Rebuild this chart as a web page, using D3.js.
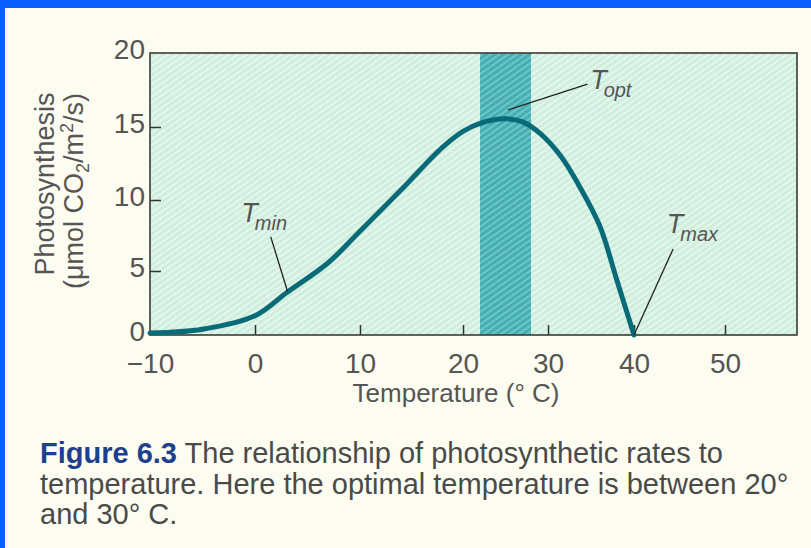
<!DOCTYPE html>
<html>
<head>
<meta charset="utf-8">
<script src="https://cdn.jsdelivr.net/npm/d3@7"></script>
<style>
  body { margin: 0; background: #fdfcf0; }
  svg { display: block; font-family: "Liberation Sans", Arial, sans-serif; }
</style>
</head>
<body>
<svg id="chart" width="811" height="548"></svg>
<script>
// x ticks and where they sit in the picture (the printed axis is not evenly spaced)
var xTicks = [-10, 0, 10, 20, 30, 40, 50];
var xTickPx = [150, 255, 360, 463, 548, 634, 725];
var yTicks = [0, 5, 10, 15, 20];
var yTickPx = [335, 271, 200, 127, 53];

// curve
var temps = [-10, -5, 0, 3, 7, 10, 14, 18, 20, 22, 25, 27, 29, 31.5, 33.5, 36, 38, 40];
var rates = [0.15, 0.45, 1.5, 3.3, 5.6, 7.8, 10.7, 13.6, 14.7, 15.25, 15.55, 15.35, 14.6, 13.0, 11.1, 8.2, 4.3, 0];

var optBand = [22, 28];

// T labels: text anchor, pointer start, pointer end (data units)
var labelNames = ["min", "opt", "max"];
var labelAt = [[-1.3, 8.45], [34.9, 17.6], [43.6, 7.7]];
var pointFrom = [[1.5, 7.4], [34.6, 17.9], [44.3, 6.55]];
var pointTo = [[3.1, 3.4], [25.3, 16.15], [40, 0]];

var captionLines = [
  ["Figure 6.3", " The relationship of photosynthetic rates to"],
  ["", "temperature. Here the optimal temperature is between 20°"],
  ["", "and 30° C."]
];

var svg = d3.select("#chart");
var W = +svg.attr("width"), H = +svg.attr("height");

var x = d3.scaleLinear().domain(xTicks).range(xTickPx);
var y = d3.scaleLinear().domain(yTicks).range(yTickPx);
var plotL = 150, plotR = 797, plotT = 53, plotB = 335;

var defs = svg.append("defs");
var hatch = defs.append("pattern").attr("id", "hatch")
    .attr("patternUnits", "userSpaceOnUse").attr("width", 5).attr("height", 5)
    .attr("patternTransform", "rotate(-35)");
hatch.append("rect").attr("width", 5).attr("height", 5).attr("fill", "#cfeedb");
hatch.append("rect").attr("width", 5).attr("height", 2).attr("fill", "#e4f6ee");

var hatch2 = defs.append("pattern").attr("id", "hatch2")
    .attr("patternUnits", "userSpaceOnUse").attr("width", 5).attr("height", 5)
    .attr("patternTransform", "rotate(-35)");
hatch2.append("rect").attr("width", 5).attr("height", 5).attr("fill", "#47aeae");
hatch2.append("rect").attr("width", 5).attr("height", 2).attr("fill", "#6cc4cf");

// blue frame of the slide
svg.append("rect").attr("x", 0).attr("y", 0).attr("width", W).attr("height", 8).attr("fill", "#0a5dff");
svg.append("rect").attr("x", 0).attr("y", 0).attr("width", 5).attr("height", H).attr("fill", "#0a5dff");

// plot background
svg.append("rect").attr("x", plotL).attr("y", plotT)
    .attr("width", plotR - plotL).attr("height", plotB - plotT)
    .attr("fill", "url(#hatch)");

svg.append("rect")
    .attr("x", x(optBand[0])).attr("y", plotT)
    .attr("width", x(optBand[1]) - x(optBand[0])).attr("height", plotB - plotT)
    .attr("fill", "url(#hatch2)");

// axes
var xAxis = d3.axisBottom(x).tickValues(xTicks).tickSize(-10).tickPadding(16)
    .tickFormat(function (d) { return d < 0 ? "\u2212" + Math.abs(d) : d; });
var gx = svg.append("g").attr("transform", "translate(0," + plotB + ")").call(xAxis);
var yAxis = d3.axisLeft(y).tickValues(yTicks).tickSize(-11).tickPadding(5);
var gy = svg.append("g").attr("transform", "translate(" + plotL + ",0)").call(yAxis);

[gx, gy].forEach(function (g) {
  g.select(".domain").remove();
  g.selectAll("line").attr("stroke", "#333").attr("stroke-width", 1.5);
  g.selectAll("text").attr("fill", "#555").style("font-size", "28px")
      .style("font-family", "Liberation Sans, Arial, sans-serif");
});
gx.selectAll(".tick").filter(function (d) { return d === -10; }).select("line").remove();
gy.selectAll(".tick").filter(function (d) { return d === 0 || d === 20; }).select("line").remove();
gx.selectAll("text").attr("y", 18);
gy.selectAll("text").attr("y", -3);

svg.append("rect").attr("x", plotL).attr("y", plotT)
    .attr("width", plotR - plotL).attr("height", plotB - plotT)
    .attr("fill", "none").attr("stroke", "#3a3a3a").attr("stroke-width", 1.6);

// curve
var line = d3.line().x(function (d) { return x(d[0]); }).y(function (d) { return y(d[1]); })
    .curve(d3.curveCatmullRom.alpha(0.5));
svg.append("path").datum(d3.zip(temps, rates))
    .attr("d", line).attr("fill", "none")
    .attr("stroke", "#096a78").attr("stroke-width", 5).attr("stroke-linecap", "round");

// pointers and labels
labelNames.forEach(function (n, i) {
  svg.append("line")
      .attr("x1", x(pointFrom[i][0])).attr("y1", y(pointFrom[i][1]))
      .attr("x2", x(pointTo[i][0])).attr("y2", y(pointTo[i][1]))
      .attr("stroke", "#222").attr("stroke-width", 1.3);
  var t = svg.append("text")
      .attr("x", x(labelAt[i][0])).attr("y", y(labelAt[i][1]))
      .attr("fill", "#555").style("font-style", "italic").style("font-size", "27px");
  t.append("tspan").text("T");
  t.append("tspan").attr("dx", -3).attr("dy", 8).style("font-size", "20px").text(n);
});

// axis titles
svg.append("text").attr("x", 456).attr("y", 402).attr("text-anchor", "middle")
    .attr("fill", "#555").style("font-size", "26px").text("Temperature (° C)");

var yt1 = svg.append("g").attr("transform", "translate(0,184) rotate(-90)");
yt1.append("text").attr("x", 0).attr("y", 54).attr("text-anchor", "middle")
    .attr("fill", "#555").style("font-size", "27px").text("Photosynthesis");
var yt2g = svg.append("g").attr("transform", "translate(0,191) rotate(-90)");
var yt2 = yt2g.append("text").attr("x", 0).attr("y", 83).attr("text-anchor", "middle")
    .attr("fill", "#555").style("font-size", "27px");
yt2.append("tspan").text("(\u03bcmol CO");
yt2.append("tspan").attr("dy", 6).style("font-size", "18px").text("2");
yt2.append("tspan").attr("dy", -6).text("/m");
yt2.append("tspan").attr("dy", -10).style("font-size", "18px").text("2");
yt2.append("tspan").attr("dy", 10).text("/s)");

// caption
captionLines.forEach(function (c, i) {
  var t = svg.append("text").attr("x", 40).attr("y", 463 + i * 30.5)
      .style("font-size", "29px");
  if (c[0]) t.append("tspan").attr("fill", "#1d3f8f").style("font-weight", "bold").text(c[0]);
  t.append("tspan").attr("fill", "#4a4a4a").text(c[1]);
});
</script>
</body>
</html>
